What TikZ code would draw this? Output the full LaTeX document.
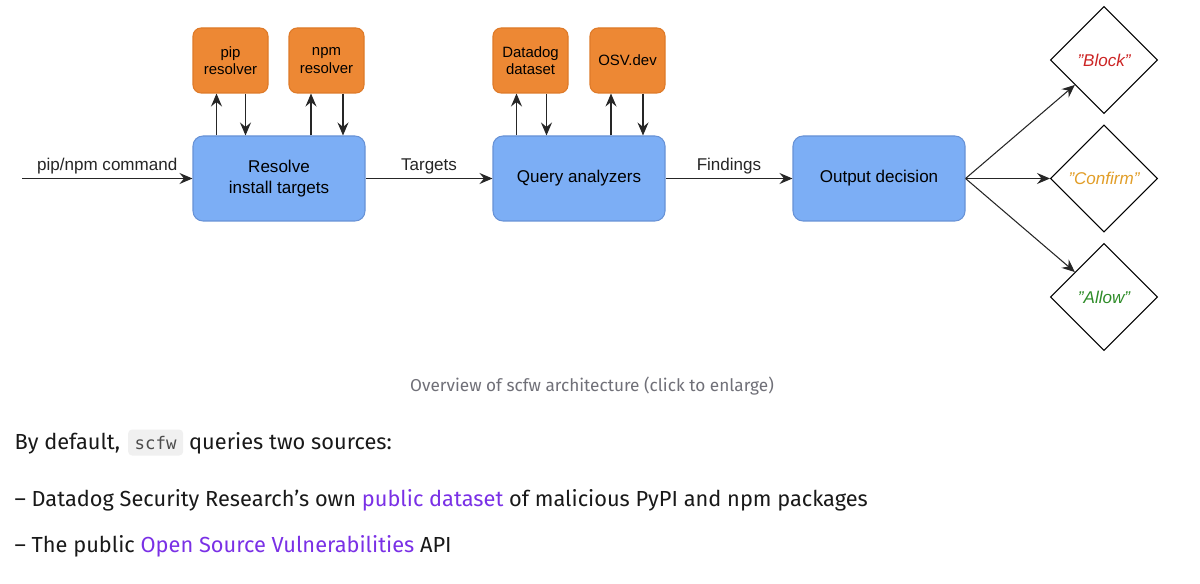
\documentclass[tikz,border=0pt]{standalone}
\usepackage{fontspec}
\setmainfont{Liberation Sans}
\newfontfamily\bodyfont{Fira Sans}
\newfontfamily\codefont{DejaVu Sans Mono}
\usepackage{xcolor}
\usepackage{tikz}
\usetikzlibrary{positioning}
\usetikzlibrary{shapes.geometric}
\usetikzlibrary{arrows.meta}
\definecolor{boxblue}{RGB}{124,174,245}
\definecolor{lineblue}{RGB}{104,146,214}
\definecolor{boxorange}{RGB}{237,136,52}
\definecolor{lineorange}{RGB}{222,122,40}
\definecolor{blockred}{RGB}{204,36,36}
\definecolor{confirmorange}{RGB}{226,158,40}
\definecolor{allowgreen}{RGB}{46,140,40}
\definecolor{linkpurple}{RGB}{122,48,230}
\definecolor{captiongray}{RGB}{112,112,120}
\definecolor{codegray}{RGB}{240,240,240}
\tikzset{
    stepnode/.style = {rectangle, rounded corners=0.2cm, draw=lineblue, fill=boxblue, align=center, minimum width=3.44cm, minimum height=1.7cm, font=\fontsize{9.7}{12}\selectfont},
    srcnode/.style = {rectangle, rounded corners=0.16cm, draw=lineorange, fill=boxorange, align=center, minimum width=1.5cm, minimum height=1.3cm, font=\fontsize{8.5}{9.8}\selectfont},
    choice/.style = {diamond, aspect=1, draw=black, minimum size=2.14cm, inner sep=0pt, font=\itshape\fontsize{9.7}{12}\selectfont},
}

\begin{document}
\begin{tikzpicture}[
	line width=0.6pt,
	font=\fontsize{9.7}{12}\selectfont
]
\tikzset{
    edgea/.style = {-{Stealth[length=2.6mm,width=2.2mm,inset=0.9mm]}, black!85},
    lbl/.style = {above, inner sep=2.2pt},
    bodytext/.style = {inner sep=0pt, anchor=base west, font=\bodyfont\fontsize{12.4}{15}\selectfont, text=black!90},
}
\useasboundingbox (0,0) rectangle (24,11.66);
\fill[white] (0,0) rectangle (24,11.66);
\node[stepnode] at (5.58,8.09) (resolve) {Resolve\\install targets};
\node[stepnode] at (11.58,8.09) (query) {Query analyzers};
\node[stepnode] at (17.58,8.09) (output) {Output decision};
\node[srcnode] at (4.61,10.45) (pip) {pip\\resolver};
\node[srcnode] at (6.53,10.45) (npm) {npm\\resolver};
\node[srcnode] at (10.61,10.45) (datadog) {Datadog\\dataset};
\node[srcnode] at (12.55,10.45) (osv) {OSV.dev};
\node[choice] at (22.08,10.46) (block) {\textcolor{blockred}{"Block"}};
\node[choice] at (22.08,8.09) (confirm) {\textcolor{confirmorange}{"Confirm"}};
\node[choice] at (22.08,5.72) (allow) {\textcolor{allowgreen}{"Allow"}};
\coordinate (cmd) at (0.44,8.09);
%
\draw[edgea] (cmd) -- node[lbl] {pip/npm command} (resolve);
\draw[edgea] (resolve) -- node[lbl] {Targets} (query);
\draw[edgea] (query) -- node[lbl] {Findings} (output);
%
\draw[edgea] ([xshift=-0.28cm]pip.south |- resolve.north) -- ([xshift=-0.28cm]pip.south);
\draw[edgea] ([xshift=0.3cm]pip.south) -- ([xshift=0.3cm]pip.south |- resolve.north);
\draw[edgea] ([xshift=-0.31cm]npm.south |- resolve.north) -- ([xshift=-0.31cm]npm.south);
\draw[edgea] ([xshift=0.33cm]npm.south) -- ([xshift=0.33cm]npm.south |- resolve.north);
\draw[edgea] ([xshift=-0.28cm]datadog.south |- query.north) -- ([xshift=-0.28cm]datadog.south);
\draw[edgea] ([xshift=0.32cm]datadog.south) -- ([xshift=0.32cm]datadog.south |- query.north);
\draw[edgea] ([xshift=-0.33cm]osv.south |- query.north) -- ([xshift=-0.33cm]osv.south);
\draw[edgea] ([xshift=0.31cm]osv.south) -- ([xshift=0.31cm]osv.south |- query.north);
%
\draw[edgea] (output.east) -- (block);
\draw[edgea] (output.east) -- (confirm);
\draw[edgea] (output.east) -- (allow);
%
\node[inner sep=0pt, anchor=base, font=\bodyfont\fontsize{9.8}{12}\selectfont, text=captiongray] at (11.84,3.84) (caption) {Overview of scfw architecture (click to enlarge)};
\node[bodytext] at (0.28,2.68) (intro) {By default,};
\node[inner sep=0pt, anchor=base west, fill=codegray, rounded corners=0.08cm, minimum width=1.1cm, minimum height=0.52cm, font=\codefont\fontsize{9.9}{12}\selectfont, text=black!70] at ([xshift=0.14cm]intro.base east) (code) {scfw};
\node[bodytext] at ([xshift=0.1cm]code.base east) (introrest) {queries two sources:};
\node[bodytext] at (0.28,1.54) (srcone) {– Datadog Security Research’s own \textcolor{linkpurple}{public dataset} of malicious PyPI and npm packages};
\node[bodytext] at (0.28,0.62) (srctwo) {– The public \textcolor{linkpurple}{Open Source Vulnerabilities} API};
\end{tikzpicture}
\end{document}
